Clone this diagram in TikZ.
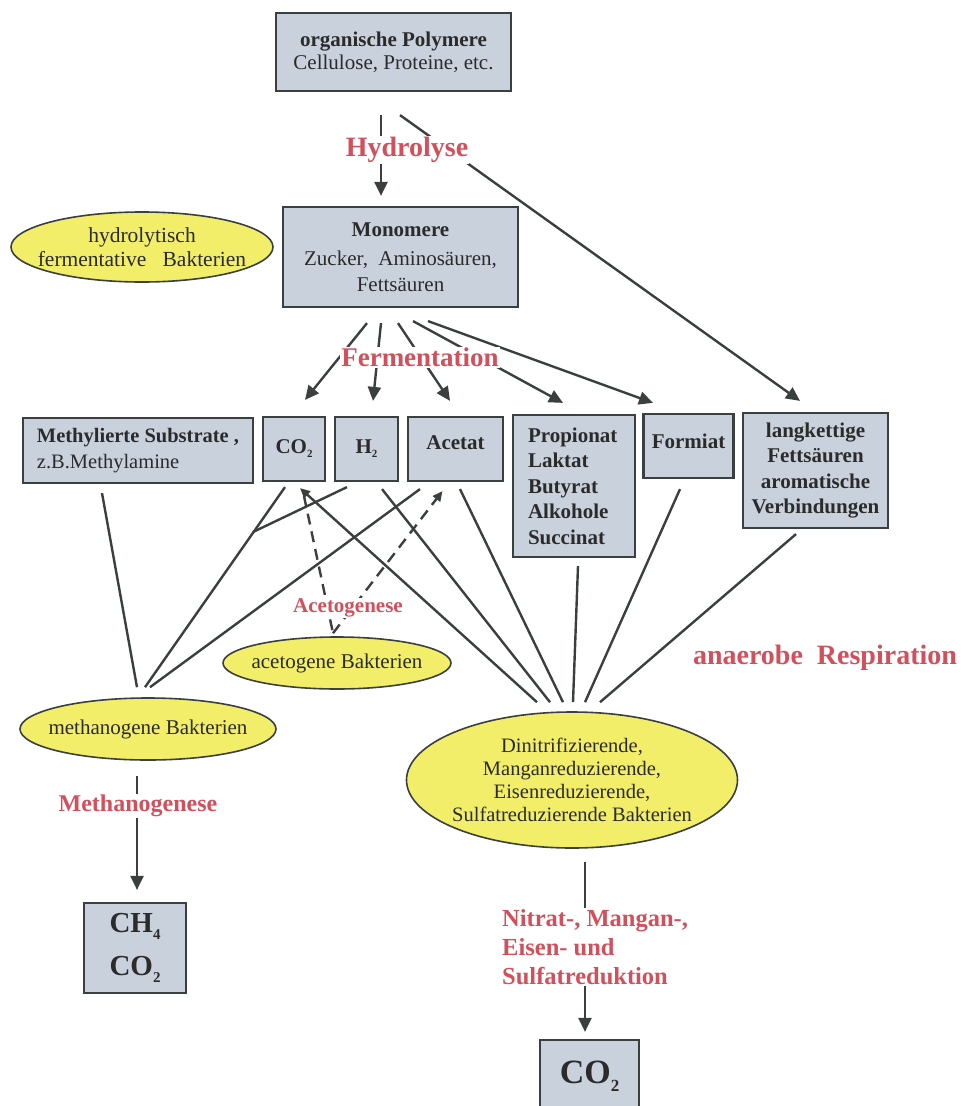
\documentclass[tikz,border=0pt]{standalone}
\usepackage{fontspec}
\setmainfont{Liberation Serif}
\usetikzlibrary{shapes.geometric,arrows.meta,calc}
\definecolor{linec}{HTML}{3A3F3F}
\definecolor{boxfill}{HTML}{C9D2DC}
\definecolor{bactfill}{HTML}{F3EE6A}
\definecolor{procred}{HTML}{D24F5C}
\definecolor{inkc}{HTML}{2B2B2B}
% font size helper: size and baseline skip
\newcommand\fs[2]{\fontsize{#1}{#2}\selectfont}
% lowered index: digit, size, drop
\newcommand\lowfig[3]{\raisebox{-#3pt}{\fontsize{#2}{#2}\selectfont #1}}
% shift text up without changing the node size
\newcommand\up[2]{\raisebox{#1}[\height][\depth]{#2}}
\begin{document}
\begin{tikzpicture}[x=1pt,y=-1pt,
  box/.style={draw=linec, line width=2.2pt, fill=boxfill, text=inkc, inner sep=0pt, font=\fs{21}{24}},
  % negative inner sep: the ellipse keeps its minimum size, text may reach its rim
  bact/.style={ellipse, draw=linec, line width=1.6pt, fill=bactfill, text=inkc,
    inner xsep=-40pt, inner ysep=-12pt, font=\fs{21}{24}, align=center},
  proc/.style={text=procred, fill=white, inner sep=1pt, font=\bfseries\fs{27}{30}},
  conn/.style={draw=linec, line width=2.4pt},
  arr/.style={conn, -{Triangle[length=14pt,width=13pt]}},
  smallarr/.style={conn, -{Triangle[length=10pt,width=9pt]}},
  dashconn/.style={conn, dash pattern=on 11pt off 7pt},
]
\useasboundingbox (0,0) rectangle (969,1106);

% ---------- substance boxes ----------
\node[box, minimum width=235, minimum height=78, align=center, font=\fs{21}{23}] (poly) at (393.5,52)
  {\textbf{organische Polymere}\\Cellulose, Proteine, etc.};
\node[box, minimum width=235, minimum height=100, align=center, font=\fs{21}{26}] (mono) at (400.5,257)
  {\textbf{Monomere}\\[3pt]Zucker,\ \ Aminosäuren,\\Fettsäuren};

\node[box, minimum width=230, minimum height=65, align=left, font=\fs{20.5}{26}] (methyl) at (138,450.5)
  {\textbf{Methylierte Substrate\ ,}\\z.B.Methylamine};
\node[box, minimum width=62, minimum height=64] (co2) at (294,449) {\textbf{CO\lowfig{2}{11}{4}}};
\node[box, minimum width=63, minimum height=64] (h2) at (366.5,449) {\textbf{H\lowfig{2}{11}{4}}};
\node[box, minimum width=95, minimum height=64] (acet) at (455.5,449) {\up{6pt}{\textbf{Acetat}}};
\node[box, minimum width=122, minimum height=142, align=left, text width=92, font=\bfseries\fs{21}{25.5}] (prop) at (574,486)
  {Propionat\\Laktat\\Butyrat\\Alkohole\\Succinat};
\node[box, minimum width=90, minimum height=64] (form) at (688.5,446) {\up{5pt}{\textbf{Formiat}}};
\node[box, minimum width=145, minimum height=115, align=center, font=\bfseries\fs{21}{25.3}] (lang) at (815.5,470.5)
  {langkettige\\Fettsäuren\\aromatische\\Verbindungen};

\node[box, minimum width=102, minimum height=90, align=center, font=\bfseries\fs{29}{43}] (ch4) at (135,948)
  {CH\lowfig{4}{15}{7}\\CO\lowfig{2}{15}{7}};
\node[box, minimum width=99, minimum height=72, font=\bfseries\fs{34}{36}] (co2b) at (589.5,1076)
  {CO\lowfig{2}{17}{8}};

% ---------- bacteria ----------
\node[bact, minimum width=262, minimum height=70, font=\fs{21.5}{24}] (hydb) at (142,247)
  {hydrolytisch\\fermentative\ \ \ Bakterien};
\node[bact, minimum width=256, minimum height=62] (methb) at (148,729) {methanogene Bakterien};
\node[bact, minimum width=228, minimum height=52] (acetb) at (337,663) {acetogene Bakterien};
\node[bact, minimum width=331, minimum height=136, font=\fs{20.5}{23}] (denb) at (572,780)
  {Dinitrifizierende,\\Manganreduzierende,\\Eisenreduzierende,\\Sulfatreduzierende Bakterien};

% ---------- hydrolysis ----------
\draw[arr] ($(poly.south)+(-12.5,23)$) -- ($(mono.north)+(-19.5,-10)$);
\draw[arr] ($(poly.south)+(6.5,23)$) -- ($(lang.north)+(-15.5,-11)$);

% ---------- fermentation ----------
\draw[arr] ($(mono.south)+(-33.5,15)$) -- ($(co2.north)+(11,-16)$);
\draw[arr] ($(mono.south)+(-19.5,15)$) -- ($(h2.north)+(6.5,-15)$);
\draw[arr] ($(mono.south)+(-2.5,15)$) -- ($(acet.north)+(-5.5,-15)$);
\draw[arr] ($(mono.south)+(12.5,13)$) -- ($(prop.north)+(-11,-11)$);
\draw[arr] ($(mono.south)+(27.5,13)$) -- ($(form.north)+(-35.5,-10)$);

% ---------- methanogenesis substrates ----------
\coordinate (jn) at (253,532);
\draw[conn] ($(methyl.south)+(-36,9)$) -- ($(methb.north)+(-11,-10)$);
\draw[conn] ($(co2.south)+(-9,5)$) -- ($(methb.north)+(-3,-10)$);
\draw[conn] ($(h2.south)+(-19.5,5)$) -- (jn);
\draw[conn] ($(acet.south)+(-35.5,7)$) -- ($(methb.north)+(2,-10)$);

% ---------- anaerobic respiration ----------
\draw[smallarr] ($(denb.north)+(-35,-9)$) -- ($(co2.south)+(6,6)$);
\draw[conn] ($(h2.south)+(15.5,7)$) -- ($(denb.north)+(-22,-9)$);
\draw[conn] ($(acet.south)+(4.5,7)$) -- ($(denb.north)+(-9,-9)$);
\draw[conn] ($(prop.south)+(4,8)$) -- ($(denb.north)+(1,-9)$);
\draw[conn] ($(form.south)+(-8.5,10)$) -- ($(denb.north)+(13,-9)$);
\draw[conn] ($(lang.south)+(-19.5,5)$) -- ($(denb.north)+(28,-9)$);

% ---------- acetogenesis ----------
\draw[dashconn] ($(co2.south)+(10,14)$) -- ($(acetb.north)+(-4,-3)$);
\draw[dashconn, -{Triangle[length=10pt,width=9pt]}] ($(acetb.north)+(-4,-3)$) -- ($(acet.south)+(-13,9)$);

% ---------- end products ----------
\draw[arr] ($(methb.south)+(-11,15)$) -- ($(ch4.north)+(2,-12)$);
\draw[arr] ($(denb.south)+(13,13)$) -- ($(co2b.north)+(-4.5,-7)$);

% ---------- process labels ----------
\node[proc, font=\bfseries\fs{28}{30}] (hyd) at (407,150) {Hydrolyse};
\node[proc] (ferm) at (420,357) {Fermentation};
\node[proc, font=\bfseries\fs{21}{24}] (acg) at (348,608) {Acetogenese};
\node[proc, fill=none, font=\bfseries\fs{28}{30}] (anr) at (825,658) {anaerobe\ \ Respiration};
\node[proc, font=\bfseries\fs{24}{26}] (mtg) at (138,806) {Methanogenese};
\node[proc, anchor=west, align=left, font=\bfseries\fs{24.5}{29}] (red) at (501,947)
  {Nitrat-, Mangan-,\\Eisen- und\\Sulfatreduktion};
\end{tikzpicture}
\end{document}
